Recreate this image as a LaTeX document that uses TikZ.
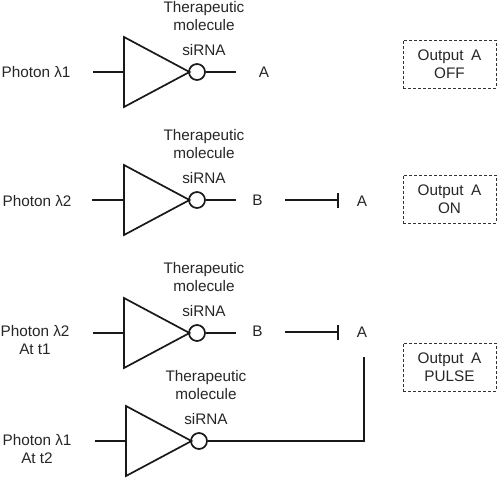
\documentclass[tikz,border=0pt]{standalone}
\usepackage{fontspec}
\setmainfont{Liberation Sans}
\usetikzlibrary{arrows.meta}
\tikzset{
  wire/.style={line width=1.7pt,color=black!90},
  gatebody/.style={line width=1.7pt,color=black!90,line join=miter},
  bubble/.style={circle,draw=black!90,line width=1.7pt,minimum size=16pt,inner sep=0pt},
  lbl/.style={font=\fontsize{15.3}{17.5}\selectfont,text=black!85,inner sep=0pt,align=center},
  outbox/.style={draw=black!80,dashed,line width=1pt,dash pattern=on 3pt off 2pt,minimum width=93pt,minimum height=48pt,inner sep=0pt,lbl,text width=93pt},
  inhibit/.style={wire,-{Bar[width=15pt,length=1.8pt]}}
}
\newcommand{\gatedraw}[3]{% name, x offset, y centre
  \coordinate (#1top) at (#2+124,#3-35);
  \coordinate (#1bot) at (#2+124,#3+35);
  \coordinate (#1tip) at (#2+189.5,#3);
  \draw[gatebody] (#1top) -- (#1bot) -- (#1tip) -- cycle;
  \node[bubble] (#1c) at (#2+197,#3) {};
  \coordinate (#1in) at (#2+124,#3);
  \node[lbl] (#1th) at (#2+204,#3-56) {Therapeutic\\molecule};
  \node[lbl] (#1si) at (#2+204,#3-22) {siRNA};
}
\begin{document}
\begin{tikzpicture}[x=1pt,y=-1pt]
\useasboundingbox (0,0) rectangle (498,480);
% gate 1
\gatedraw{g}{0}{72}
\coordinate (gs) at (93,72);
\coordinate (ge) at (236,72);
\draw[wire] (gs) -- (gin);
\draw[wire] (gc) -- (ge);
\node[lbl] (p1) at (36,72) {Photon λ1};
\node[lbl] (a1) at (264,72) {A};
\node[outbox] (o1) at (449.5,64) {Output\, A\\OFF};
% gate 2
\gatedraw{h}{0}{200}
\coordinate (hs) at (92,200);
\coordinate (he) at (236,200);
\draw[wire] (hs) -- (hin);
\draw[wire] (hc) -- (he);
\node[lbl] (p2) at (37,201) {Photon λ2};
\node[lbl] (b2) at (257.5,200) {B};
\coordinate (h1) at (285,200);
\coordinate (h2) at (339,200);
\draw[inhibit] (h1) -- (h2);
\node[lbl] (a2) at (362,201) {A};
\node[outbox] (o2) at (449.5,199) {Output\, A\\ON};
% gate 3
\gatedraw{k}{0}{333}
\coordinate (ks) at (93,333);
\coordinate (ke) at (236,333);
\draw[wire] (ks) -- (kin);
\draw[wire] (kc) -- (ke);
\node[lbl] (p3) at (35,340) {Photon λ2\\At t1};
\node[lbl] (b3) at (257.5,331) {B};
\coordinate (k1) at (285,332);
\coordinate (k2) at (339,332);
\draw[inhibit] (k1) -- (k2);
\node[lbl] (a3) at (362,332) {A};
\node[outbox] (o3) at (449.5,367) {Output\, A\\PULSE};
% gate 4
\gatedraw{m}{2}{441}
\coordinate (ms) at (95,441);
\coordinate (mu) at (364,357);
\draw[wire] (ms) -- (min);
\draw[wire] (mc) -- (364,441) -- (mu);
\node[lbl] (p4) at (37,449) {Photon λ1\\At t2};
\end{tikzpicture}
\end{document}
